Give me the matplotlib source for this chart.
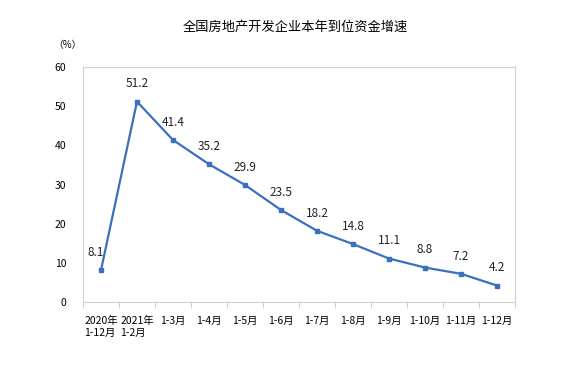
import matplotlib.pyplot as plt

plt.rcParams['font.family'] = ['Noto Sans CJK SC', 'DejaVu Sans']

categories = ['2020年\n1-12月', '2021年\n1-2月', '1-3月', '1-4月', '1-5月', '1-6月',
              '1-7月', '1-8月', '1-9月', '1-10月', '1-11月', '1-12月']
growth = [8.1, 51.2, 41.4, 35.2, 29.9, 23.5, 18.2, 14.8, 11.1, 8.8, 7.2, 4.2]

fig = plt.figure(figsize=(5.75, 3.71), dpi=100)
ax = fig.add_axes([0.1443, 0.186, 0.7514, 0.633])

x = list(range(len(categories)))
ax.plot(x, growth, color='#3b6fc0', lw=1.6, marker='s', ms=3.5)

for i, v in enumerate(growth):
    dx = -0.15 if i == 0 else 0
    ax.annotate(f'{v}', (i + dx, v), xytext=(0, 8), textcoords='offset points',
                ha='center', va='bottom', fontsize=8.5, color='#222222')

ax.set_xlim(-0.5, len(categories) - 0.5)
ax.set_ylim(0, 60)
ax.set_yticks(range(0, 61, 10))
ax.set_xticks(x)
ax.set_xticklabels(categories, fontsize=7.5, linespacing=1.25, multialignment='left')
ax.tick_params(axis='x', length=0, pad=10)
ax.set_xticks([i + 0.5 for i in range(-1, len(categories))], minor=True)
ax.tick_params(axis='x', which='minor', length=4, color='#c8c8c8')
ax.tick_params(axis='y', length=0, labelsize=7.5, pad=12)

for s in ax.spines.values():
    s.set_color('#d0d0d0')
    s.set_linewidth(0.8)

fig.text(0.513, 0.927, '全国房地产开发企业本年到位资金增速', ha='center', va='center', fontsize=9.5)
fig.text(0.117, 0.878, '（%）', ha='center', va='center', fontsize=7)

fig.savefig('out.png', dpi=100)
